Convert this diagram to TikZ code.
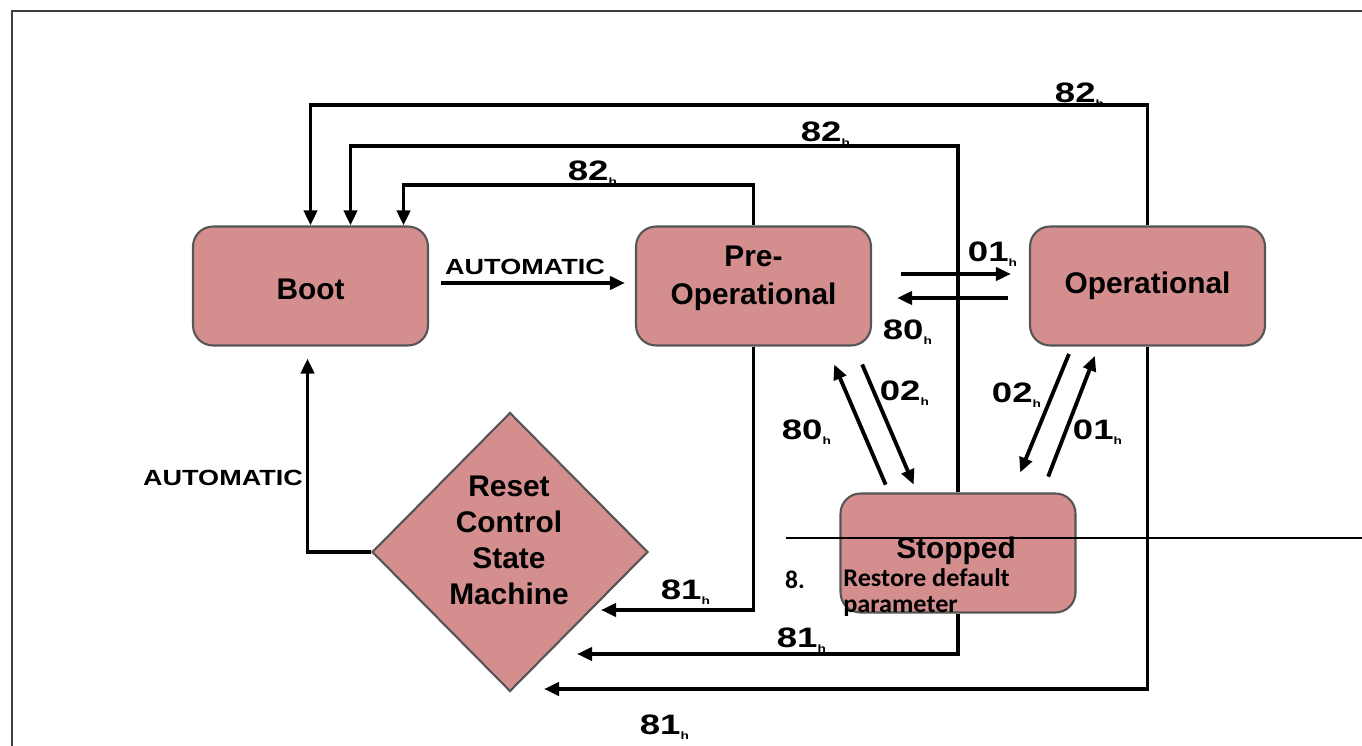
\documentclass[tikz,border=0pt]{standalone}
\usepackage{fontspec}
\setmainfont{Liberation Sans}
\newfontfamily\notefont{Carlito}
\usetikzlibrary{arrows.meta,shapes.geometric,positioning,calc}
\definecolor{statefill}{RGB}{212,142,142}
\definecolor{stateedge}{RGB}{85,85,85}
\newcommand{\hsub}{\textsubscript{\fontsize{6}{6}\selectfont h}}
\tikzset{
  state/.style={draw=stateedge, line width=1.2pt, fill=statefill, rounded corners=0.4cm,
    minimum width=4.7cm, minimum height=2.38cm, align=center,
    font=\fontsize{17}{21.6}\selectfont\bfseries},
  trans/.style={line width=2.2pt, -{Triangle[length=0.3cm,width=0.26cm]}},
  hexlbl/.style={font=\fontsize{16}{16}\selectfont\bfseries, xscale=1.3, inner sep=0pt},
  autolbl/.style={font=\fontsize{12.5}{12.5}\selectfont\bfseries, xscale=1.23, inner sep=0pt}
}

\begin{document}
\begin{tikzpicture}[x=0.02cm, y=-0.02cm]
  \useasboundingbox (0,0) rectangle (1362,746);
  % page frame
  \draw[line width=1.1pt, black!75] (12,746) -- (12,11) -- (1362,11);

  % states
  \node[state] (boot) at (310.5,286) {\raisebox{-0.06cm}[\height][\depth]{Boot}};
  \node[state] (preop) at (753.5,286)
    {\raisebox{0.16cm}[\height][\depth]{\begin{tabular}{@{}c@{}}Pre-\\Operational\end{tabular}}};
  \node[state] (oper) at (1147.5,286) {Operational};
  \node[state] (stop) at (958,553) {};
  \node[diamond, draw=stateedge, line width=1.2pt, fill=statefill, inner sep=0pt,
        minimum width=5.52cm, minimum height=5.58cm] (reset) at (510,552) {};
  \node[align=center, font=\fontsize{17}{20.5}\selectfont\bfseries] (resettxt)
        at (509,540) {Reset\\Control\\State\\Machine};

  % transitions to boot (82h)
  \draw[trans] (oper.north) -- (oper.north |- 0,105) -| (boot.north);
  \draw[trans] (stop.north) -- (stop.north |- 0,146) -| ($(boot.north)+(40,0)$);
  \draw[trans] (preop.north) -- (preop.north |- 0,185) -| ($(boot.north)+(93,0)$);
  \node[hexlbl] (l82a) at (1080,95) {82\hsub};
  \node[hexlbl] (l82b) at (826,134) {82\hsub};
  \node[hexlbl] (l82c) at (593,173) {82\hsub};

  % automatic transitions
  \draw[trans, shorten <=0.24cm, shorten >=0.2cm] ([yshift=0.06cm]boot.east) -- ([yshift=0.06cm]preop.west);
  \node[autolbl] (autoa) at (525,267) {AUTOMATIC};
  \draw[trans, shorten >=0.24cm] (reset.west) -| ($(boot.south)+(-3,0)$);
  \node[autolbl] (autob) at (223,478) {AUTOMATIC};

  % pre-operational <-> operational
  \draw[trans, shorten <=0.58cm, shorten >=0.36cm] ([yshift=0.24cm]preop.east) -- ([yshift=0.24cm]oper.west);
  \draw[trans, shorten <=0.42cm, shorten >=0.5cm] ([yshift=-0.24cm]oper.west) -- ([yshift=-0.24cm]preop.east);
  \node[hexlbl] (l01a) at (993,254) {01\hsub};
  \node[hexlbl] (l80a) at (908,332) {80\hsub};

  % pre-operational <-> stopped
  \draw[trans, shorten <=0.17cm, shorten >=0.39cm] ($(stop.north)+(-69,0)$) -- ($(preop.south)+(73,0)$);
  \draw[trans, shorten <=0.39cm, shorten >=0.17cm] ($(preop.south)+(101,0)$) -- ($(stop.north)+(-41,0)$);
  \node[hexlbl] (l02a) at (905,393) {02\hsub};
  \node[hexlbl] (l80b) at (807,432) {80\hsub};

  % operational <-> stopped
  \draw[trans, shorten <=0.16cm, shorten >=0.43cm] ($(oper.south)+(-75.5,0)$) -- ($(stop.north)+(54,0)$);
  \draw[trans, shorten <=0.34cm, shorten >=0.2cm] ($(stop.north)+(84,0)$) -- ($(oper.south)+(-49,0)$);
  \node[hexlbl] (l02b) at (1017,395) {02\hsub};
  \node[hexlbl] (l01b) at (1098,432) {01\hsub};

  % reset transitions (81h)
  \draw[trans] (preop.south) |- ($(reset)+(91,58)$);
  \draw[trans] (stop.south) |- ($(reset)+(67,102)$);
  \draw[trans] (oper.south) |- ($(reset)+(34,137)$);
  \node[hexlbl] (l81a) at (686,592) {81\hsub};
  \node[hexlbl] (l81b) at (802,640) {81\hsub};
  \node[hexlbl] (l81c) at (665,727) {81\hsub};

  % note laid over the picture
  \draw[line width=0.6pt] (786,538) -- (1362,538);
  \node[font=\fontsize{17}{17}\selectfont\bfseries] (stoptxt) at (956,551) {Stopped};
  \node[font=\notefont\fontsize{14.5}{14.8}\selectfont\bfseries, inner sep=0pt] (num) at (795,580) {8.};
  \node[font=\notefont\fontsize{14.5}{14.8}\selectfont\bfseries, align=left, anchor=west,
        xscale=1.03, inner sep=0pt] (note) at (843,593) {Restore default\\parameter};
\end{tikzpicture}
\end{document}
